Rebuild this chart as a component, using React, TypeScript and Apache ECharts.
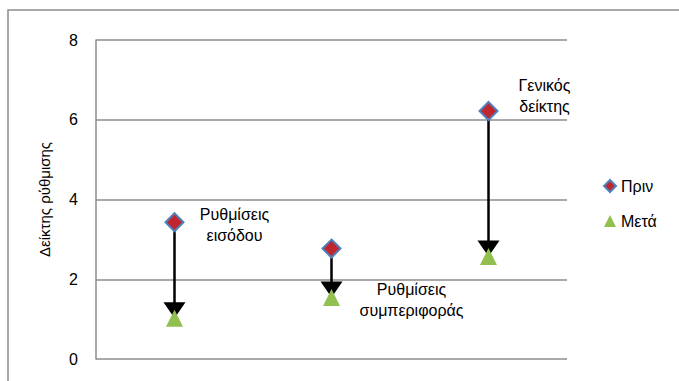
import React, { useEffect, useRef } from "react";
import * as echarts from "echarts";

const categories = ["Ρυθμίσεις εισόδου", "Ρυθμίσεις συμπεριφοράς", "Γενικός δείκτης"];
const labelTexts = ["Ρυθμίσεις\nεισόδου", "Ρυθμίσεις\nσυμπεριφοράς", "Γενικός\nδείκτης"];
const before = [3.43, 2.77, 6.22];
const after = [1.02, 1.54, 2.57];
const yTicks = [0, 2, 4, 6, 8];

const FONT = "'Liberation Sans', Arial, sans-serif";

export default function App() {
  const ref = useRef<HTMLDivElement>(null);
  useEffect(() => {
    if (!ref.current) return;
    const chart = echarts.init(ref.current, undefined, { renderer: "svg" });
    const labelOffsets: Record<number, { series: string; offset: number[] }> = {
      0: { series: "Πριν", offset: [60, 3] },
      1: { series: "Μετά", offset: [80, 2] },
      2: { series: "Πριν", offset: [56, -15] },
    };
    const mkLabel = (i: number, s: string) => {
      const lo = labelOffsets[i];
      if (lo.series !== s) return undefined;
      return {
        show: true,
        position: "inside",
        offset: lo.offset,
        formatter: labelTexts[i],
        align: "center",
        verticalAlign: "middle",
        fontFamily: FONT,
        fontSize: 16,
        lineHeight: 21,
        color: "#000",
      };
    };
    const option: any = {
      animation: false,
      backgroundColor: "#fff",
      textStyle: { fontFamily: FONT },
      graphic: [
        {
          type: "rect",
          shape: { x: 8, y: 10, width: 690, height: 400 },
          style: { fill: "none", stroke: "#8c8c8c", lineWidth: 1.5 },
          silent: true,
        },
      ],
      grid: { left: 96, top: 40, width: 471, height: 319, containLabel: false },
      legend: {
        orient: "vertical",
        left: 598,
        top: 171,
        itemWidth: 12,
        itemHeight: 12,
        itemGap: 15,
        data: ["Πριν", "Μετά"],
        textStyle: { fontFamily: FONT, fontSize: 16, color: "#000", lineHeight: 20 },
      },
      xAxis: {
        type: "category",
        data: categories,
        axisLabel: { show: false },
        axisTick: { show: false },
        axisLine: { show: false },
        splitLine: { show: false },
      },
      yAxis: {
        type: "value",
        min: yTicks[0],
        max: yTicks[yTicks.length - 1],
        interval: 2,
        name: "Δείκτης ρύθμισης",
        nameLocation: "middle",
        nameRotate: 90,
        nameGap: 44,
        nameTextStyle: { fontFamily: FONT, fontSize: 15, color: "#000" },
        axisLine: { show: true, lineStyle: { color: "#8c8c8c", width: 1.5 } },
        axisTick: { show: false },
        axisLabel: { fontFamily: FONT, fontSize: 16, color: "#000", margin: 18 },
        splitLine: { show: true, lineStyle: { color: "#8c8c8c", width: 1.5 } },
      },
      series: [
        {
          type: "custom",
          name: "arrows",
          z: 2,
          silent: true,
          encode: { x: 0, y: [1, 2] },
          data: categories.map((_, i) => [i, before[i], after[i]]),
          renderItem: (params: any, api: any) => {
            const s = api.coord([api.value(0), api.value(1)]);
            const e = api.coord([api.value(0), api.value(2)]);
            const headH = 16;
            const headW = 22;
            return {
              type: "group",
              children: [
                {
                  type: "line",
                  shape: { x1: s[0], y1: s[1], x2: e[0], y2: e[1] - headH + 1 },
                  style: { stroke: "#000", lineWidth: 2.5 },
                },
                {
                  type: "polygon",
                  shape: {
                    points: [
                      [e[0] - headW / 2, e[1] - headH],
                      [e[0] + headW / 2, e[1] - headH],
                      [e[0], e[1]],
                    ],
                  },
                  style: { fill: "#000" },
                },
              ],
            };
          },
        },
        {
          type: "scatter",
          name: "Πριν",
          z: 3,
          symbol: "diamond",
          symbolSize: 18,
          itemStyle: { color: "#C0262D", borderColor: "#4F81BD", borderWidth: 2, opacity: 1 },
          data: before.map((v, i) => {
            const l = mkLabel(i, "Πριν");
            return l ? { value: [i, v], label: l } : { value: [i, v] };
          }),
        },
        {
          type: "scatter",
          name: "Μετά",
          z: 4,
          symbol: "triangle",
          symbolSize: 17,
          itemStyle: { color: "#92C050", opacity: 1 },
          data: after.map((v, i) => {
            const l = mkLabel(i, "Μετά");
            return l ? { value: [i, v], label: l } : { value: [i, v] };
          }),
        },
      ],
    };
    chart.setOption(option);
    return () => chart.dispose();
  }, []);
  return (
    <div
      ref={ref}
      style={{ position: "fixed", left: 0, top: 0, width: 679, height: 381 }}
    />
  );
}
